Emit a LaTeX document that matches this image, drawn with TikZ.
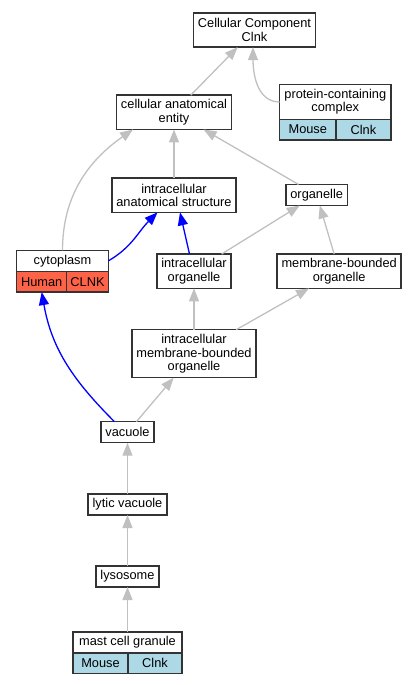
\documentclass[tikz,border=0pt]{standalone}
\usepackage{fontspec}
\setmainfont{Liberation Sans}
\usetikzlibrary{arrows.meta}
\definecolor{boxgray}{HTML}{333333}
\definecolor{edgegray}{HTML}{C0C0C0}
\definecolor{mouseblue}{HTML}{ADD8E6}
\definecolor{humanred}{HTML}{FF6347}
\tikzset{
  term/.style={draw=boxgray, line width=1.5pt, fill=white, align=center,
    inner xsep=4.4pt, inner ysep=0pt, outer sep=0pt, minimum height=21pt,
    font=\fontsize{12.8}{13.3}\selectfont},
  two/.style={minimum height=34.3pt},
  three/.style={minimum height=48pt},
  cell/.style={term, inner xsep=0pt, minimum height=20.7pt, anchor=north west},
  isa/.style={edgegray, line width=1.3pt, -{Triangle[length=13pt,width=10pt]}},
  part/.style={isa, blue}
}
\begin{document}
\begin{tikzpicture}[x=1pt,y=1pt]
  \useasboundingbox (0,0) rectangle (416,-685);
  \draw
    (254.5,-30) node[term,two] (ccc){Cellular Component\\Clnk}
    (174,-112.3) node[term,two] (cae){cellular anatomical\\entity}
    (335.3,-102) node[term,minimum width=111.3pt,minimum height=34.6pt] (pcc){protein-containing\\complex}
    (174,-195.2) node[term,two] (ias){intracellular\\anatomical structure}
    (316.7,-195) node[term] (org){organelle}
    (62.5,-260.9) node[term,minimum width=91.6pt] (cyt){cytoplasm}
    (194,-271.2) node[term,two] (io){intracellular\\organelle}
    (339.2,-271.2) node[term,two] (mbo){membrane-bounded\\organelle}
    (194,-353.7) node[term,three] (imbo){intracellular\\membrane-bounded\\organelle}
    (127.5,-432.2) node[term] (vac){vacuole}
    (127.5,-504.5) node[term] (lv){lytic vacuole}
    (127.5,-576.5) node[term] (lys){lysosome}
    (127.5,-642.3) node[term,minimum width=109pt] (mcg){mast cell granule};
  % species / gene cells
  \node[cell,fill=mouseblue,minimum width=56.3pt] (pccA) at (pcc.south west){Mouse};
  \node[cell,fill=mouseblue,minimum width=55pt] (pccB) at (pccA.north east){Clnk};
  \node[cell,fill=humanred,minimum width=50pt] (cytA) at (cyt.south west){Human};
  \node[cell,fill=humanred,minimum width=41.6pt] (cytB) at (cytA.north east){CLNK};
  \node[cell,fill=mouseblue,minimum width=55pt] (mcgA) at (mcg.south west){Mouse};
  \node[cell,fill=mouseblue,minimum width=54pt] (mcgB) at (mcgA.north east){Clnk};
  \begin{scope}[isa]
    \draw (cae) to (ccc);
    \draw (pcc.west) to[out=180,in=-90] ([xshift=-1.5pt]ccc.south);
    \draw (cyt.north) to[out=90,in=-145] ([xshift=-41pt]cae.south);
    \draw (ias) to (cae);
    \draw (org) to (cae);
    \draw (io) to (org);
    \draw (mbo) to (org);
    \draw (imbo) to (io);
    \draw (imbo) to (mbo);
    \draw (vac) to (imbo);
    \draw (lv) to (vac);
    \draw (lys) to (lv);
    \draw (mcg) to (lys);
  \end{scope}
  \begin{scope}[part]
    \draw (cyt.east) to[out=30,in=-135] ([xshift=-16.5pt]ias.south);
    \draw ([xshift=-4.5pt]io.north) to ([xshift=6pt]ias.south);
    \draw ([xshift=-13pt]vac.north) to[out=135,in=-80] (cytA.south);
  \end{scope}
\end{tikzpicture}
\end{document}
